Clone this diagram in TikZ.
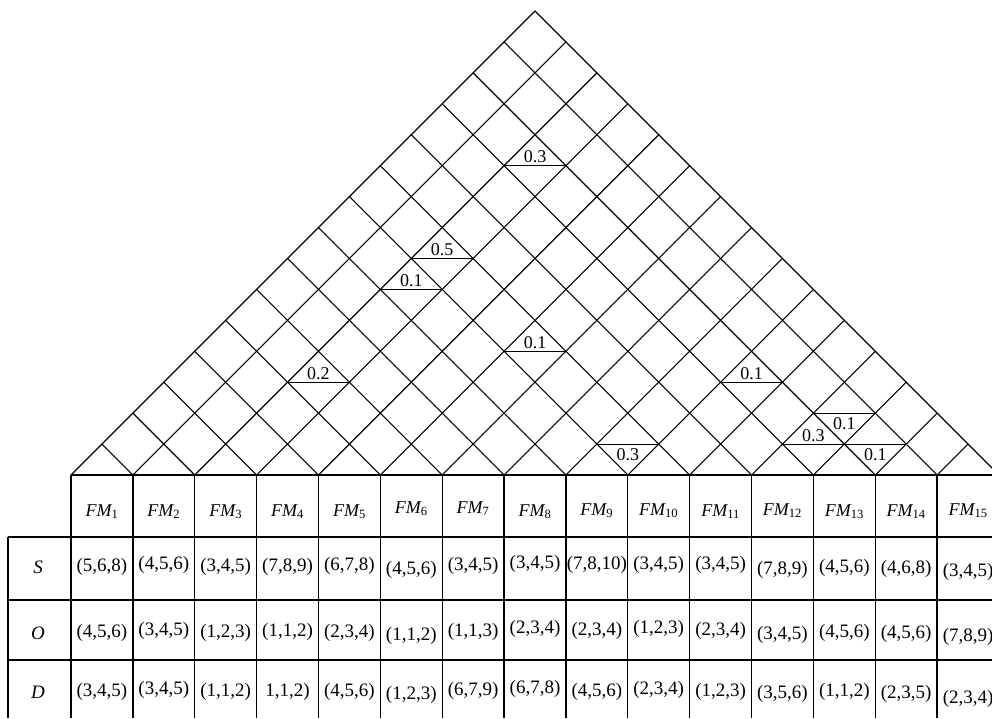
\documentclass[tikz,border=0pt]{standalone}
\usepackage{fontspec}
\setmainfont{Liberation Serif}
\newcommand\xo{71}
\newcommand\yb{475}
\newcommand\cw{61.8667}
\newcommand\cell[4]{\node[val] (c#1-#2) at (\xo+#2*\cw-\cw/2, #3) {#4};}
\begin{document}
\begin{tikzpicture}[x=1pt,y=-1pt,
  gridline/.style={line width=1.1pt, line cap=round},
  tbl/.style={line width=1.3pt},
  val/.style={font=\fontsize{19}{22}\selectfont, inner sep=0pt},
  hdr/.style={font=\fontsize{18}{22}\selectfont\itshape, inner sep=0pt},
  corr/.style={font=\fontsize{18}{22}\selectfont, inner sep=0pt}]
\useasboundingbox (0,0) rectangle (992,718);
\clip (0,0) rectangle (992,718);
% roof grid
\foreach \kk in {0,...,14}{
  \pgfmathsetmacro\xs{\xo+\kk*\cw}
  \pgfmathsetmacro\len{(15-\kk)*\cw/2}
  \draw[gridline] (\xs,\yb) -- ++(\len,-\len);
}
\foreach \kk in {1,...,15}{
  \pgfmathsetmacro\xs{\xo+\kk*\cw}
  \pgfmathsetmacro\len{\kk*\cw/2}
  \draw[gridline] (\xs,\yb) -- ++(-\len,-\len);
}
% correlation marks
\foreach \i/\j/\vv/\off in {3/13/0.3/-3, 3/10/0.5/-3, 3/9/0.1/-3, 3/6/0.2/-3,
    6/10/0.1/-3, 10/13/0.1/-3, 12/13/0.3/-3, 9/10/0.3/16, 12/14/0.1/16, 13/14/0.1/16}{
  \pgfmathsetmacro\cx{\xo+(\i+\j-1)*\cw/2}
  \pgfmathsetmacro\cy{\yb-(\j-\i)*\cw/2}
  \pgfmathsetmacro\ly{\cy+(\off)}
  \draw[gridline] (\cx-\cw/2,\cy) -- (\cx+\cw/2,\cy);
  \node[corr, anchor=base] (r-\i-\j) at (\cx,\ly) {\vv};
}
% table lines
\draw[tbl] (\xo,\yb) -- (\xo+15*\cw,\yb);
\foreach \kk in {0,...,15}{
  \draw[tbl] (\xo+\kk*\cw,\yb) -- (\xo+\kk*\cw,718);
}
\foreach \yy in {537,600,660}{
  \draw[tbl] (8,\yy) -- (\xo+15*\cw,\yy);
}
\draw[tbl] (8,537) -- (8,718);
% header
\foreach \kk/\hy in {1/516,2/516,3/516,4/516,5/516,6/513,7/513,8/516,9/515,10/515,11/516,12/515,13/516,14/516,15/515}{
  \node[hdr, anchor=base] (h\kk) at (\xo+\kk*\cw-\cw/2, \hy) {FM\textsubscript{\upshape\kk}};
}
% row labels
\node[hdr, font=\fontsize{19}{22}\selectfont\itshape] (lS) at (38,567) {S};
\node[hdr, font=\fontsize{19}{22}\selectfont\itshape] (lO) at (38,633) {O};
\node[hdr, font=\fontsize{19}{22}\selectfont\itshape] (lD) at (38,692) {D};
% row S
\cell{S}{1}{567}{(5,6,8)}
\cell{S}{2}{565}{(4,5,6)}
\cell{S}{3}{567}{(3,4,5)}
\cell{S}{4}{567}{(7,8,9)}
\cell{S}{5}{566}{(6,7,8)}
\cell{S}{6}{570}{(4,5,6)}
\cell{S}{7}{566}{(3,4,5)}
\cell{S}{8}{564}{(3,4,5)}
\cell{S}{9}{565}{(7,8,10)}
\cell{S}{10}{565}{(3,4,5)}
\cell{S}{11}{565}{(3,4,5)}
\cell{S}{12}{570}{(7,8,9)}
\cell{S}{13}{568}{(4,5,6)}
\cell{S}{14}{569}{(4,6,8)}
\cell{S}{15}{572}{(3,4,5)}
% row O
\cell{O}{1}{633}{(4,5,6)}
\cell{O}{2}{631}{(3,4,5)}
\cell{O}{3}{633}{(1,2,3)}
\cell{O}{4}{632}{(1,1,2)}
\cell{O}{5}{633}{(2,3,4)}
\cell{O}{6}{636}{(1,1,2)}
\cell{O}{7}{632}{(1,1,3)}
\cell{O}{8}{629}{(2,3,4)}
\cell{O}{9}{631}{(2,3,4)}
\cell{O}{10}{629}{(1,2,3)}
\cell{O}{11}{631}{(2,3,4)}
\cell{O}{12}{635}{(3,4,5)}
\cell{O}{13}{633}{(4,5,6)}
\cell{O}{14}{634}{(4,5,6)}
\cell{O}{15}{637}{(7,8,9)}
% row D
\cell{D}{1}{692}{(3,4,5)}
\cell{D}{2}{690}{(3,4,5)}
\cell{D}{3}{692}{(1,1,2)}
\cell{D}{4}{692}{1,1,2)}
\cell{D}{5}{692}{(4,5,6)}
\cell{D}{6}{695}{(1,2,3)}
\cell{D}{7}{691}{(6,7,9)}
\cell{D}{8}{689}{(6,7,8)}
\cell{D}{9}{692}{(4,5,6)}
\cell{D}{10}{690}{(2,3,4)}
\cell{D}{11}{692}{(1,2,3)}
\cell{D}{12}{694}{(3,5,6)}
\cell{D}{13}{692}{(1,1,2)}
\cell{D}{14}{694}{(2,3,5)}
\cell{D}{15}{699}{(2,3,4)}
\end{tikzpicture}
\end{document}
